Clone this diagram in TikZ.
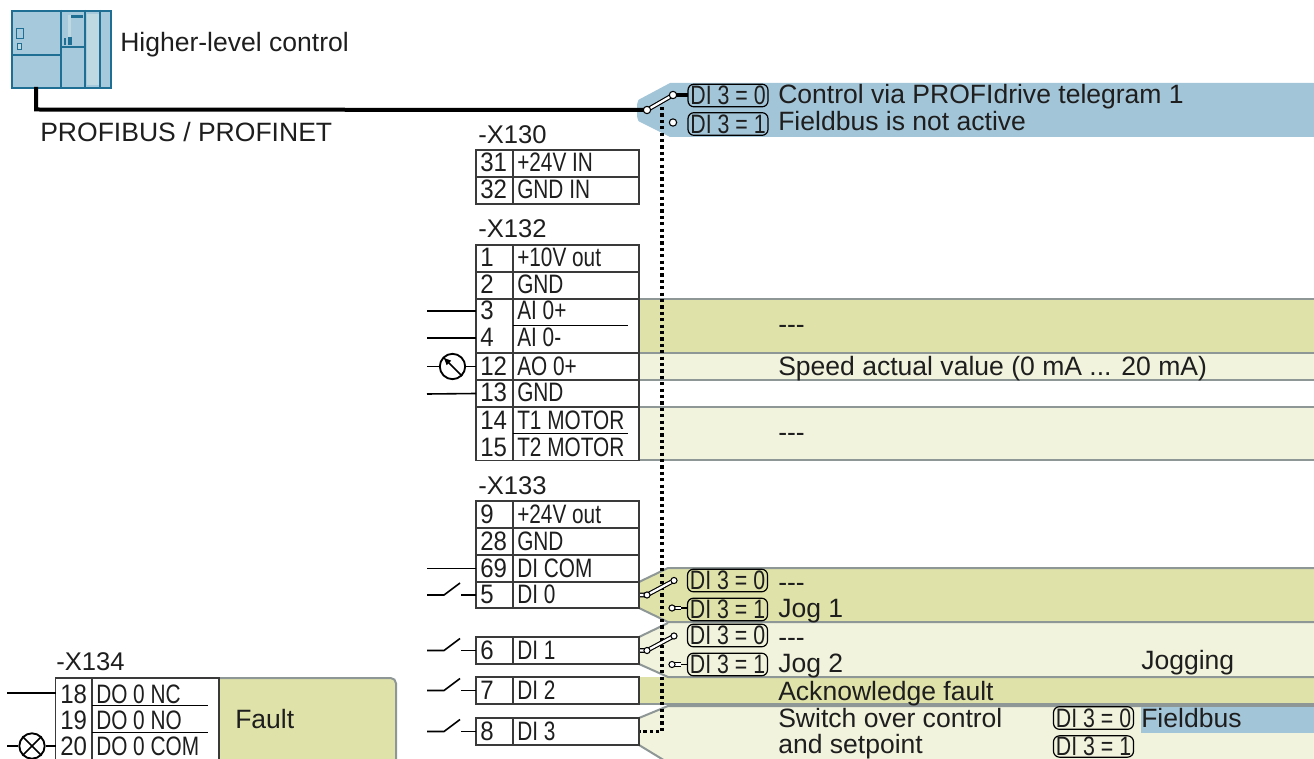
\documentclass[tikz,border=0pt]{standalone}
\usepackage{fontspec}
\setmainfont{Liberation Sans}
\newfontfamily\condf[FakeStretch=0.78]{Liberation Sans}
\newfontfamily\numf[FakeStretch=0.9]{Liberation Sans}
\newfontfamily\pillf[FakeStretch=0.8]{Liberation Sans}
\definecolor{olive}{HTML}{E0E3A9}
\definecolor{pale}{HTML}{F2F3DD}
\definecolor{bluef}{HTML}{A3C5D8}
\definecolor{edgeg}{HTML}{8E9696}
\definecolor{framec}{HTML}{3A3A3A}
\definecolor{plcedge}{HTML}{1F6E93}
\definecolor{plcfill}{HTML}{A6CADB}
\definecolor{plclight}{HTML}{BFD9E3}
\definecolor{txt}{HTML}{1E1E1E}
\tikzset{
  lbl/.style={anchor=base west,inner sep=0pt,text=txt,font=\fontsize{19.9}{22}\selectfont},
  hdr/.style={anchor=base west,inner sep=0pt,text=txt,font=\fontsize{19.2}{22}\selectfont},
  cond/.style={anchor=base west,inner sep=0pt,text=txt,font=\condf\fontsize{20}{22}\selectfont},
  numl/.style={anchor=base west,inner sep=0pt,text=txt,font=\numf\fontsize{20}{22}\selectfont},
  pill/.style={draw=black,line width=0.9pt,rounded corners=4.5pt,inner sep=0pt,minimum width=60pt,minimum height=17pt,text=txt,font=\pillf\fontsize{20}{20}\selectfont,anchor=center},
  frame/.style={draw=framec,line width=1.1pt},
  bandedge/.style={draw=edgeg,line width=1.5pt},
  wire/.style={draw=black,line width=1.2pt},
  bus/.style={draw=black,line width=3pt},
  plcline/.style={draw=plcedge,line width=1.5pt},
  ctl/.style={draw=black,line width=2.5pt,dash pattern=on 2.4pt off 2.4pt},
  pivot/.style={circle,draw=black,fill=white,line width=.8pt,minimum size=5.5pt,inner sep=0pt},
  swbar/.style={draw=black,line width=3.4pt},
  swcore/.style={draw=white,line width=1.7pt},
  dial/.style={circle,draw=black,line width=1.4pt,minimum size=19pt,inner sep=0pt},
}
\newcommand{\trow}[5]{% name, top, bot, num, label
  \draw[frame,fill=white] (476,#2) rectangle (639,#3);
  \draw[frame] (513,#2) -- (513,#3);
  \node[numl] (#1n) at (480,#3-5) {#4};
  \node[cond] (#1l) at (517,#3-5) {#5};
  \coordinate (#1) at (476,{(#2+#3)/2});
}
\newcommand{\swt}[3]{% name, terminal, y : open switch in front of a terminal
  \coordinate (#1a) at (427,#3);
  \coordinate (#1b) at (444,#3);
  \coordinate (#1c) at (460,#3-12);
  \coordinate (#1d) at (461,#3);
  \draw[wire] (#1a) -- (#1b) -- (#1c);
  \draw[wire] (#1d) -- (#2);
}
\newcommand{\minisw}[3]{% name, y of terminal, y of lower contact
  \coordinate (#1a) at (640,#2);
  \coordinate (#1b) at (647,#2);
  \coordinate (#1c) at (674,#2-14.5);
  \coordinate (#1d) at (672,#3);
  \coordinate (#1e) at (688,#3);
  \draw[swbar] (#1a) -- (#1b) -- (#1c);
  \draw[swcore] (#1a) -- (#1b) -- (#1c);
  \draw[line width=1.3pt] (#1d) -- (#1e);
  \draw[swbar] (#1d) -- ++(9,0);
  \draw[swcore] (#1d) -- ++(9,0);
  \node[pivot,minimum size=4.6pt] (#1p) at (#1b) {};
  \node[pivot,minimum size=4.6pt] (#1q) at (#1c) {};
  \node[pivot,minimum size=4.6pt] (#1r) at (#1d) {};
}
\begin{document}
\begin{tikzpicture}[x=0.75pt,y=-0.75pt]
\useasboundingbox (0,0) rectangle (1314,759);
\clip (0,0) rectangle (1314,759);
% blue band
\fill[bluef] (670,83) -- (1314,83) -- (1314,137) -- (670,137) -- (640,122) to[out=200,in=90] (637,117) -- (637,104) to[out=-90,in=160] (640,99) -- cycle;
% analog bands
\fill[olive] (639,299) rectangle (1314,353);
\fill[pale] (639,353) rectangle (1314,380);
\fill[pale] (639,407) rectangle (1314,460);
\draw[bandedge] (639,299) -- (1314,299);
\draw[bandedge] (639,353) -- (1314,353);
\draw[bandedge] (639,380) -- (1314,380);
\draw[bandedge] (639,407) -- (1314,407);
\draw[bandedge] (639,460) -- (1314,460);
% digital bands
\fill[olive] (639,582) -- (668,568) -- (1314,568) -- (1314,622) -- (668,622) -- (639,608) -- cycle;
\fill[pale] (639,637) -- (668,623) -- (1314,623) -- (1314,677) -- (668,677) -- (639,664) -- cycle;
\fill[olive] (639,677) rectangle (1314,704);
\fill[pale] (639,718) -- (668,706) -- (1314,706) -- (1314,770) -- (680,770) -- (639,745) -- cycle;
\draw[bandedge] (639,582) -- (668,568) -- (1314,568);
\draw[bandedge] (639,608) -- (668,622) -- (1314,622);
\draw[bandedge] (639,637) -- (668,623);
\draw[bandedge] (639,664) -- (668,677) -- (1314,677);
\draw[bandedge] (639,704) -- (1314,704);
\draw[bandedge] (639,718) -- (668,706) -- (1314,706);
\draw[bandedge] (639,745) -- (680,770);
\fill[bluef] (1141,707) rectangle (1314,733);
% fault band
\draw[bandedge,fill=olive,rounded corners=4pt] (219,678) -- (396,678) -- (396,775) -- (219,775);
% PLC icon
\node[draw=plcedge,line width=1.5pt,fill=plcfill,minimum width=74.25pt,minimum height=57.75pt,inner sep=0pt,anchor=north west] (plc) at (11,10) {};
\fill[plclight] (87,14) rectangle (99,85);
\fill[plclight] (68,15) rectangle (71,37);
\fill[plcedge] (71,15) rectangle (83,18);
\fill[plcedge] (64,38) rectangle (66,45);
\fill[plcedge] (68,37) rectangle (72,45);
\draw[plcline] (60.5,10) -- (60.5,87);
\draw[plcline] (84.5,10) -- (84.5,87);
\draw[plcline,line width=1pt] (100,10) -- (100,87);
\draw[plcline] (11,55) -- (60,55);
\draw[plcline] (61,47.5) -- (84,47.5);
\draw[draw=plcedge,line width=.7pt] (16,28) rectangle (23,38);
\draw[draw=plcedge,line width=.7pt,fill=plclight] (17,43) rectangle (21,49);
\node[lbl] (hlc) at (120,52) {Higher-level control};
\node[lbl] (pbus) at (40,142) {PROFIBUS / PROFINET};
% terminal headers
\node[hdr] (x130) at (478,144) {-X130};
\node[hdr] (x132) at (478,238) {-X132};
\node[hdr] (x133) at (478,494) {-X133};
\node[hdr] (x134) at (56,670) {-X134};
% X130
\trow{t31}{150}{177}{31}{+24V IN}
\trow{t32}{177}{204}{32}{GND IN}
% X132
\trow{t1}{245}{272}{1}{+10V out}
\trow{t2}{272}{299}{2}{GND}
\draw[frame,fill=white] (476,299) rectangle (639,353);
\draw[frame] (513,299) -- (513,353);
\draw[wire] (513,325.5) -- (628,325.5);
\node[numl] (t3n) at (480,320) {3};
\node[cond] (t3l) at (517,320) {AI 0+};
\node[numl] (t4n) at (480,347) {4};
\node[cond] (t4l) at (517,347) {AI 0-};
\coordinate (t3) at (476,311);
\coordinate (t4) at (476,338);
\trow{t12}{353}{380}{12}{AO 0+}
\trow{t13}{380}{407}{13}{GND}
\draw[frame,fill=white] (476,407) rectangle (639,460.5);
\draw[frame] (513,407) -- (513,460.5);
\draw[wire] (513,433.5) -- (628,433.5);
\node[numl] (t14n) at (480,429) {14};
\node[cond] (t14l) at (517,429) {T1 MOTOR};
\node[numl] (t15n) at (480,456) {15};
\node[cond] (t15l) at (517,456) {T2 MOTOR};
% X133
\trow{t9}{501}{528}{9}{+24V out}
\trow{t28}{528}{555}{28}{GND}
\trow{t69}{555}{582}{69}{DI COM}
\trow{t5}{582}{608}{5}{DI 0}
\trow{t6}{637}{664}{6}{DI 1}
\trow{t7}{677}{704}{7}{DI 2}
\trow{t8}{718}{745}{8}{DI 3}
% X134
\draw[frame,fill=white] (55.5,678) rectangle (219,775);
\draw[frame] (92,678) -- (92,775);
\draw[wire] (92,705.5) -- (208,705.5);
\draw[wire] (92,732.5) -- (208,732.5);
\node[numl] (t18n) at (60,703) {18};
\node[cond] (t18l) at (96,703) {DO 0 NC};
\node[numl] (t19n) at (60,729) {19};
\node[cond] (t19l) at (96,729) {DO 0 NO};
\node[numl] (t20n) at (60,755) {20};
\node[cond] (t20l) at (96,755) {DO 0 COM};
\coordinate (t18) at (55.5,693);
\coordinate (t20) at (55.5,746);
\node[lbl] (fault) at (235,728) {Fault};
% left wires
\coordinate (w3) at (427,311);
\coordinate (w4) at (427,338);
\coordinate (w12) at (427,366.5);
\coordinate (w13) at (427,394);
\coordinate (w69) at (427,568.5);
\coordinate (w18) at (7,693);
\coordinate (w20) at (7,746);
\draw[wire] (w3) -- (t3);
\draw[wire] (w4) -- (t4);
\draw[wire] (w13) -- (t13);
\draw[wire] (w69) -- (t69);
\draw[wire] (w18) -- (t18);
\node[dial] (meter) at (452.5,366.5) {};
\draw[wire] (w12) -- (meter);
\draw[wire] (meter) -- (t12);
\draw[wire,latex-] (meter.north west) -- (meter.south east);
\node[dial] (lamp) at (32,746) {};
\draw[wire] (w20) -- (lamp);
\draw[wire] (lamp) -- (t20);
\draw[wire] (lamp.north west) -- (lamp.south east);
\draw[wire] (lamp.north east) -- (lamp.south west);
\swt{s5}{t5}{595}
\swt{s6}{t6}{650.5}
\swt{s7}{t7}{690.5}
\swt{s8}{t8}{731.5}
% control dotted line
\coordinate (dtop) at (662,107);
\coordinate (dbot) at (662,731.5);
\coordinate (dend) at (640,731.5);
\draw[ctl] (dtop) -- (dbot) -- (dend);
% bus and main switch
\coordinate (busa) at (36,87);
\coordinate (busb) at (36,109.5);
\coordinate (sw0) at (647,110);
\coordinate (sw1) at (673,95);
\coordinate (sw2) at (688,95);
\draw[bus] (busa) -- (busb) -- (sw0);
\draw[bus] (sw1) -- (sw2);
\draw[swbar] (sw0) -- (sw1);
\draw[swcore] (sw0) -- (sw1);
\node[pivot] at (sw0) {};
\node[pivot] at (sw1) {};
\node[pivot] (contact) at (673,122.5) {};
% pills main
\node[pill] (p1) at (728,95.5) {DI 3 = 0};
\node[pill] (p2) at (728,124) {DI 3 = 1};
\node[lbl] (tctl) at (778,103.5) {Control via PROFIdrive telegram 1};
\node[lbl] (tfb) at (778,131) {Fieldbus is not active};
\node[lbl] (d1) at (778,334) {-{}-{}-};
\node[lbl] (tspeed) at (778,375) {Speed actual value (0 mA ... 20 mA)};
\node[lbl] (d2) at (778,441) {-{}-{}-};
% digital mini switches
\minisw{m0}{595}{608}
\minisw{m1}{650.5}{664.5}
\node[pill] (p3) at (727.5,580.5) {DI 3 = 0};
\node[pill] (p4) at (727.5,609.5) {DI 3 = 1};
\node[pill] (p5) at (727.5,635.5) {DI 3 = 0};
\node[pill] (p6) at (727.5,664.5) {DI 3 = 1};
\node[lbl] (d3) at (778,591) {-{}-{}-};
\node[lbl] (jog1) at (778,617) {Jog 1};
\node[lbl] (d4) at (778,646) {-{}-{}-};
\node[lbl] (jog2) at (778,672) {Jog 2};
\node[lbl] (jogging) at (1141,669) {Jogging};
\node[lbl] (ack) at (778,700) {Acknowledge fault};
\node[lbl] (sw) at (778,727) {Switch over control};
\node[lbl] (setp) at (778,753.5) {and setpoint};
\node[pill] (p7) at (1093.5,718) {DI 3 = 0};
\node[pill,minimum height=16pt] (p8) at (1093.5,746.5) {DI 3 = 1};
\node[lbl] (fb) at (1141,727) {Fieldbus};
\end{tikzpicture}
\end{document}
